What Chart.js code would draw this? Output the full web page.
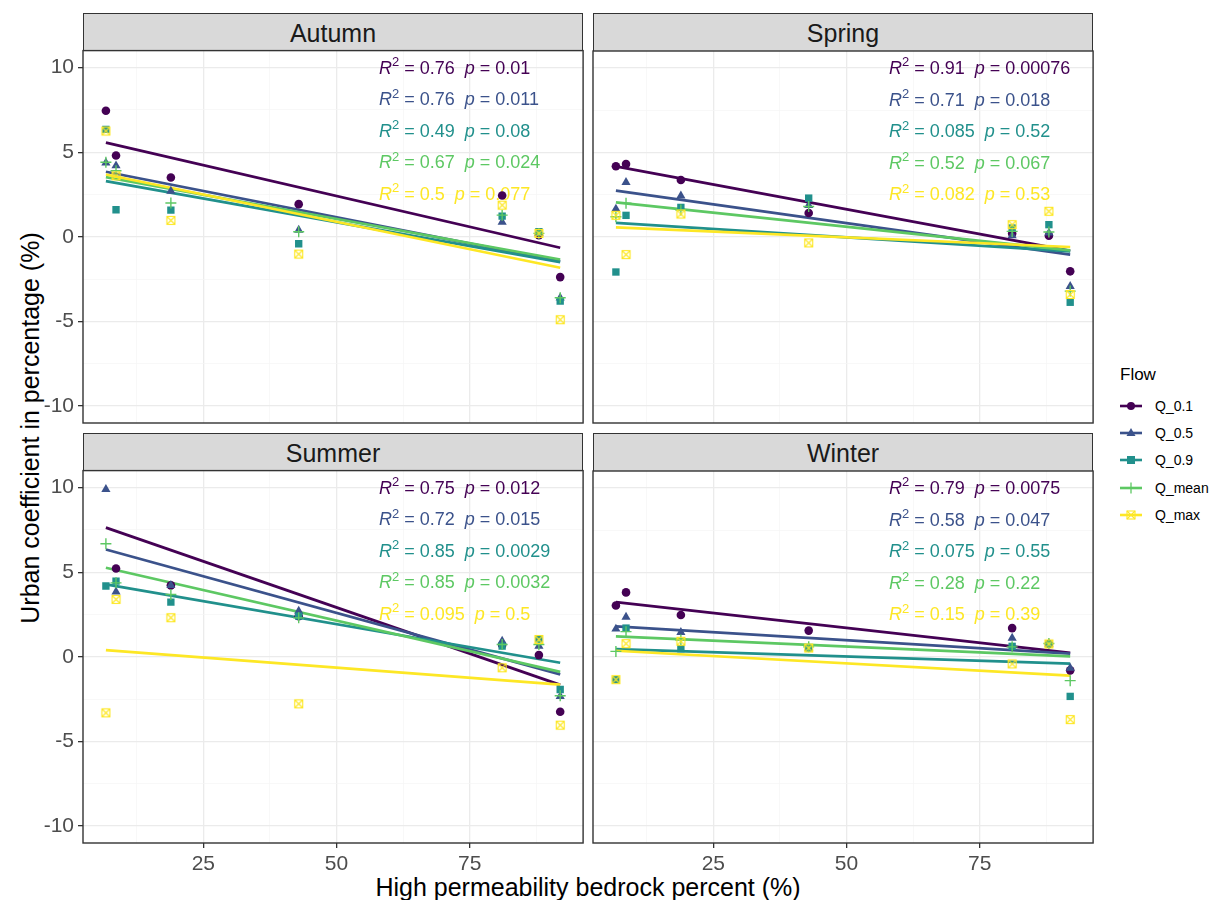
<!DOCTYPE html>
<html>
<head>
<meta charset="utf-8">
<script src="https://cdn.jsdelivr.net/npm/chart.js@4.4.0/dist/chart.umd.min.js"></script>
<style>
  body { margin: 0; background: #fff; font-family: "Liberation Sans", Arial, sans-serif; }
  #wrap { position: relative; width: 1210px; height: 900px; overflow: hidden; }
  .strip { position: absolute; width: 500px; height: 38px; box-sizing: border-box;
           background: #D9D9D9; border: 1.4px solid #333; border-bottom: none;
           text-align: center; color: #1A1A1A; font-size: 25px; line-height: 38px; }
  canvas { position: absolute; }
  #ytitle { position: absolute; left: 30px; top: 428px; transform: translate(-50%, -50%) rotate(-90deg);
            white-space: nowrap; font-size: 25px; color: #000; }
  #xtitle { position: absolute; left: 588px; top: 887px; transform: translate(-50%, -50%);
            white-space: nowrap; font-size: 25px; color: #000; }
  #legend { position: absolute; left: 1118px; top: 365px; color: #000; }
  #legend .title { font-size: 17px; margin-bottom: 7px; margin-left: 2px; }
  #legend .item { height: 27.4px; display: flex; align-items: center; font-size: 14px; }
  #legend svg { margin-right: 10px; }
</style>
</head>
<body>
<div id="wrap">
  <div id="ytitle">Urban coefficient in percentage (%)</div>
  <div id="xtitle">High permeability bedrock percent (%)</div>
  <div id="legend"><div class="title">Flow</div></div>
</div>
<script>
// flows and colours
const flows = ['Q_0.1', 'Q_0.5', 'Q_0.9', 'Q_mean', 'Q_max'];
const flowColors = ['#440154', '#3B528B', '#21908C', '#5DC863', '#FDE725'];

// x = high permeability bedrock percent of the 7 sites
const siteX = [6.7, 8.6, 18.9, 42.9, 81.1, 88.0, 92.0];

const xTicks = [25, 50, 75];
const xMinorTicks = [12.5, 37.5, 62.5, 87.5];
const yTicks = [-10, -5, 0, 5, 10];
const yMinorTicks = [-7.5, -2.5, 2.5, 7.5];

// Autumn
const autumnQ01 = [7.45, 4.8, 3.5, 1.93, 2.44, 0.1, -2.38];
const autumnQ05 = [4.37, 4.2, 2.7, 0.4, 0.87, 0.2, -3.6];
const autumnQ09 = [6.35, 1.6, 1.58, -0.41, 1.22, 0.3, -3.8];
const autumnQmean = [4.4, 3.9, 2.0, 0.3, 1.28, 0.2, -3.6];
const autumnQmax = [6.25, 3.6, 0.97, -1.02, 1.87, 0.2, -4.9];
const autumnFitStart = [5.56, 3.84, 3.29, 3.53, 3.68];
const autumnFitEnd = [-0.65, -1.45, -1.5, -1.34, -1.83];
const autumnR2 = ['0.76', '0.76', '0.49', '0.67', '0.5'];
const autumnP = ['0.01', '0.011', '0.08', '0.024', '0.077'];

// Spring
const springQ01 = [4.18, 4.31, 3.37, 1.42, 0.2, 0.08, -2.03];
const springQ05 = [1.66, 3.23, 2.44, 1.87, 0.08, 0.24, -2.92];
const springQ09 = [-2.07, 1.28, 1.75, 2.3, 0.53, 0.73, -3.86];
const springQmean = [1.2, 2.0, 1.6, 1.8, 0.33, 0.3, -3.2];
const springQmax = [1.28, -1.04, 1.36, -0.35, 0.73, 1.52, -3.4];
const springFitStart = [4.18, 2.74, 0.83, 2.05, 0.57];
const springFitEnd = [-0.82, -1.04, -0.85, -0.79, -0.59];
const springR2 = ['0.91', '0.71', '0.085', '0.52', '0.082'];
const springP = ['0.00076', '0.018', '0.52', '0.067', '0.53'];

// Summer
const summerQ01 = [12.3, 5.22, 4.22, 2.4, 0.7, 0.1, -3.25];
const summerQ05 = [9.89, 3.84, 4.22, 2.7, 0.93, 0.63, -2.33];
const summerQ09 = [4.18, 4.47, 3.23, 2.4, 0.63, 1.06, -1.93];
const summerQmean = [6.68, 4.37, 3.68, 2.3, 0.73, 0.73, -2.3];
const summerQmax = [-3.31, 3.39, 2.31, -2.78, -0.65, 1.02, -4.04];
const summerFitStart = [7.63, 6.34, 4.28, 5.26, 0.39];
const summerFitEnd = [-1.66, -1.04, -0.35, -0.89, -1.64];
const summerR2 = ['0.75', '0.72', '0.85', '0.85', '0.095'];
const summerP = ['0.012', '0.015', '0.0029', '0.0032', '0.5'];

// Winter
const winterQ01 = [3.05, 3.82, 2.48, 1.56, 1.71, 0.77, -0.79];
const winterQ05 = [1.66, 2.36, 1.46, 0.53, 1.12, 0.77, -0.65];
const winterQ09 = [-1.34, 1.71, 0.49, 0.53, 0.63, 0.77, -2.33];
const winterQmean = [0.33, 1.5, 1.0, 0.6, 0.6, 0.8, -1.4];
const winterQmax = [-1.34, 0.79, 0.93, 0.53, -0.41, 0.77, -3.7];
const winterFitStart = [3.25, 1.81, 0.47, 1.22, 0.37];
const winterFitEnd = [0.24, 0.2, -0.39, 0.04, -1.1];
const winterR2 = ['0.79', '0.58', '0.075', '0.28', '0.15'];
const winterP = ['0.0075', '0.047', '0.55', '0.22', '0.39'];

const FAM = '"Liberation Sans", Arial, sans-serif';
const PAD_TOP = 16;
const PANEL_W = 500, PANEL_H = 372;

// square with an x inside (ggplot shape 7)
function crossBox(color) {
  const c = document.createElement('canvas');
  c.width = 11; c.height = 11;
  const g = c.getContext('2d');
  g.strokeStyle = color; g.lineWidth = 1.1;
  g.strokeRect(1.5, 1.5, 8, 8);
  g.beginPath();
  g.moveTo(1.5, 1.5); g.lineTo(9.5, 9.5);
  g.moveTo(9.5, 1.5); g.lineTo(1.5, 9.5);
  g.stroke();
  return c;
}
const pointStyles = ['circle', 'triangle', 'rect', 'cross', crossBox(flowColors[4])];
const pointRadii = [4.3, 5.3, 5.2, 5.5, 5];

const panels = [
  { name: 'Autumn', left: 83, top: 51, series: [autumnQ01, autumnQ05, autumnQ09, autumnQmean, autumnQmax],
    fitStart: autumnFitStart, fitEnd: autumnFitEnd, r2: autumnR2, p: autumnP, showX: false, showY: true },
  { name: 'Spring', left: 593, top: 51, series: [springQ01, springQ05, springQ09, springQmean, springQmax],
    fitStart: springFitStart, fitEnd: springFitEnd, r2: springR2, p: springP, showX: false, showY: false },
  { name: 'Summer', left: 83, top: 471, series: [summerQ01, summerQ05, summerQ09, summerQmean, summerQmax],
    fitStart: summerFitStart, fitEnd: summerFitEnd, r2: summerR2, p: summerP, showX: true, showY: true },
  { name: 'Winter', left: 593, top: 471, series: [winterQ01, winterQ05, winterQ09, winterQmean, winterQmax],
    fitStart: winterFitStart, fitEnd: winterFitEnd, r2: winterR2, p: winterP, showX: true, showY: false }
];

// R^2 / p labels in the top right of each panel
const statLabels = {
  id: 'statLabels',
  beforeDatasetsDraw(chart, args, opts) {
    const { ctx, chartArea } = chart;
    const fs = 18;
    ctx.save();
    ctx.textBaseline = 'alphabetic';
    opts.r2.forEach((r, i) => {
      let x = chartArea.left + 296;
      const y = chartArea.top + 23 + 31.6 * i;
      ctx.fillStyle = flowColors[i];
      const part = (txt, font, dy) => {
        ctx.font = font;
        ctx.fillText(txt, x, y + dy);
        x += ctx.measureText(txt).width;
      };
      part('R', 'italic ' + fs + 'px ' + FAM, 0);
      part('2', Math.round(fs * 0.7) + 'px ' + FAM, -fs * 0.42);
      part(' = ' + r + '  ', fs + 'px ' + FAM, 0);
      part('p', 'italic ' + fs + 'px ' + FAM, 0);
      part(' = ' + opts.p[i], fs + 'px ' + FAM, 0);
    });
    ctx.restore();
  }
};

const panelBorder = {
  id: 'panelBorder',
  afterDatasetsDraw(chart) {
    const { ctx, chartArea: a } = chart;
    ctx.save();
    ctx.strokeStyle = '#333333';
    ctx.lineWidth = 1.4;
    ctx.strokeRect(a.left, a.top, a.right - a.left, a.bottom - a.top);
    ctx.restore();
  }
};

function makeScale(major, minor, min, max, show, fit) {
  const all = major.concat(minor).sort((a, b) => a - b);
  const isMajor = c => c.tick && major.includes(c.tick.value);
  return {
    type: 'linear', min: min, max: max,
    afterBuildTicks: s => { s.ticks = all.map(v => ({ value: v })); },
    afterFit: fit,
    ticks: { display: show, autoSkip: false, maxRotation: 0, padding: 4, color: '#4D4D4D',
             font: { size: 21, family: FAM }, callback: v => major.includes(v) ? String(v) : '' },
    grid: {
      color: c => isMajor(c) ? '#EBEBEB' : '#F5F5F5',
      lineWidth: c => isMajor(c) ? 1.3 : 0.7,
      drawTicks: show, tickLength: 5, tickWidth: 1.3,
      tickColor: c => isMajor(c) ? '#333333' : 'rgba(0,0,0,0)'
    },
    border: { display: false }
  };
}

const wrap = document.getElementById('wrap');
const xLo = Math.min(...siteX), xHi = Math.max(...siteX);

panels.forEach(pn => {
  const strip = document.createElement('div');
  strip.className = 'strip';
  strip.style.left = pn.left + 'px';
  strip.style.top = (pn.top - 38) + 'px';
  strip.textContent = pn.name;
  wrap.appendChild(strip);

  const cv = document.createElement('canvas');
  cv.width = PANEL_W + 84; cv.height = PANEL_H + PAD_TOP + 50;
  cv.style.left = (pn.left - 80) + 'px';
  cv.style.top = (pn.top - PAD_TOP) + 'px';
  wrap.appendChild(cv);

  const datasets = [];
  pn.series.forEach((vals, i) => {
    datasets.push({
      label: flows[i],
      data: siteX.map((x, k) => ({ x: x, y: vals[k] })),
      pointStyle: pointStyles[i],
      pointRadius: pointRadii[i],
      backgroundColor: flowColors[i],
      borderColor: flowColors[i],
      borderWidth: i === 3 ? 1.4 : 0,
      order: 4 - i
    });
  });
  pn.series.forEach((vals, i) => {
    datasets.push({
      label: flows[i] + ' fit',
      data: [{ x: xLo, y: pn.fitStart[i] }, { x: xHi, y: pn.fitEnd[i] }],
      showLine: true,
      pointRadius: 0,
      borderColor: flowColors[i],
      borderWidth: 2.7,
      order: 14 - i
    });
  });

  const chart = new Chart(cv, {
    type: 'scatter',
    data: { datasets: datasets },
    options: {
      responsive: false,
      maintainAspectRatio: false,
      animation: false,
      events: [],
      layout: { padding: { left: 0, top: PAD_TOP, right: 4, bottom: 0 } },
      plugins: { legend: { display: false }, tooltip: { enabled: false },
                 statLabels: { r2: pn.r2, p: pn.p } },
      scales: {
        x: makeScale(xTicks, xMinorTicks, 2.4, 96.3, pn.showX, s => { s.height = 50; }),
        y: makeScale(yTicks, yMinorTicks, -11, 11, pn.showY, s => { s.width = 80; })
      }
    },
    plugins: [statLabels, panelBorder]
  });

  // make the plotting area exactly PANEL_W x PANEL_H and put it on the strip
  for (let k = 0; k < 3; k++) {
    const a = chart.chartArea;
    const w = Math.round(chart.width + PANEL_W - (a.right - a.left));
    const h = Math.round(chart.height + PANEL_H - (a.bottom - a.top));
    if (w === chart.width && h === chart.height) break;
    chart.resize(w, h);
  }
  const a = chart.chartArea;
  cv.style.left = (pn.left - Math.round(a.left)) + 'px';
  cv.style.top = (pn.top - Math.round(a.top)) + 'px';
});

// legend
const legend = document.getElementById('legend');
const keyShapes = [
  c => `<circle cx="13" cy="10" r="4" fill="${c}"/>`,
  c => `<polygon points="13,5 17.5,13 8.5,13" fill="${c}"/>`,
  c => `<rect x="9" y="6" width="8" height="8" fill="${c}"/>`,
  c => `<path d="M7.5 10H18.5M13 4.5V15.5" stroke="${c}" stroke-width="1.3"/>`,
  c => `<rect x="9" y="6" width="8" height="8" fill="none" stroke="${c}" stroke-width="1.1"/><path d="M9 6L17 14M17 6L9 14" stroke="${c}" stroke-width="1.1"/>`
];
flows.forEach((f, i) => {
  const item = document.createElement('div');
  item.className = 'item';
  item.innerHTML = `<svg width="27" height="20"><line x1="2" y1="10" x2="24" y2="10" stroke="${flowColors[i]}" stroke-width="2.6"/>${keyShapes[i](flowColors[i])}</svg><span>${f}</span>`;
  legend.appendChild(item);
});
</script>
</body>
</html>
